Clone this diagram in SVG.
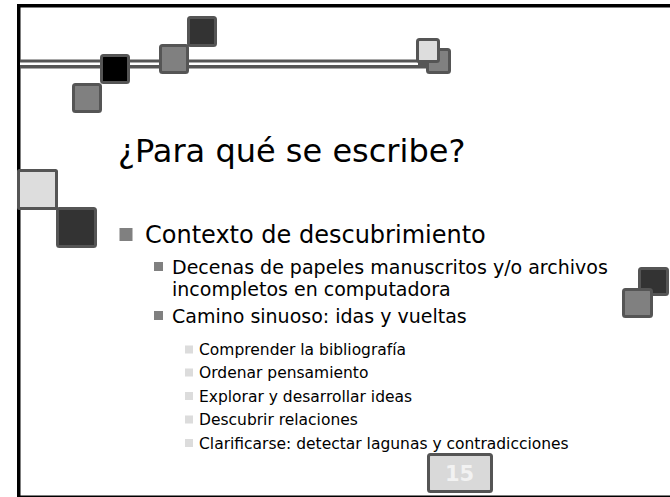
<svg xmlns="http://www.w3.org/2000/svg" width="670" height="497" viewBox="0 0 670 497">
<style>
.sq{stroke:#555;stroke-width:3}
.t{font-family:"DejaVu Sans","Liberation Sans",sans-serif;fill:#000}
.b1{fill:#808080}
.b3{fill:#dcdcdc}
</style>
<rect width="670" height="497" fill="#fff"/>
<g id="frame">
<rect x="17" y="4" width="653" height="3.5" fill="#000"/>
<rect x="17" y="4" width="3.5" height="493" fill="#000"/>
<rect x="17" y="495.5" width="653" height="1.5" fill="#000"/>
</g>
<g id="deco-line">
<rect x="20" y="59.5" width="408" height="9" fill="#555"/>
<rect x="20" y="62.5" width="398" height="2.5" fill="#fff"/>
</g>
<g id="deco-squares">
<rect class="sq" x="73.5" y="84.5" width="27" height="27" rx="2" fill="#808080"/>
<rect class="sq" x="101.5" y="55.5" width="27" height="27" rx="2" fill="#000"/>
<rect class="sq" x="188.5" y="17.5" width="27" height="28" rx="2" fill="#333"/>
<rect class="sq" x="160.5" y="45.5" width="27" height="27" rx="2" fill="#808080"/>
<rect class="sq" x="427.5" y="49.5" width="22" height="23" rx="2" fill="#808080"/>
<rect class="sq" x="417.5" y="39.5" width="21" height="22" rx="2" fill="#ddd"/>
<rect class="sq" x="18.5" y="170.5" width="38" height="38" rx="1" fill="#ddd"/>
<rect class="sq" x="57.5" y="208.5" width="38" height="38" rx="2" fill="#333"/>
<rect class="sq" x="639.5" y="268.5" width="28" height="26" rx="2" fill="#333"/>
<rect class="sq" x="623.5" y="289.5" width="28" height="27" rx="2" fill="#808080"/>
</g>
<g id="title">
<text class="t" x="118" y="162" font-size="32">¿Para qué se escribe?</text>
</g>
<g id="bullets">
<rect class="b1" x="119.5" y="228" width="13" height="13"/>
<text class="t" x="145" y="243" font-size="24">Contexto de descubrimiento</text>
<rect class="b1" x="154" y="262" width="9" height="9"/>
<text class="t" x="172" y="273.5" font-size="19">Decenas de papeles manuscritos y/o archivos</text>
<text class="t" x="172" y="295.5" font-size="19">incompletos en computadora</text>
<rect class="b1" x="154" y="311" width="9" height="9"/>
<text class="t" x="172" y="322.5" font-size="19">Camino sinuoso: idas y vueltas</text>
<rect class="b3" x="185" y="345.5" width="8" height="8"/>
<text class="t" x="199" y="355" font-size="15.5">Comprender la bibliografía</text>
<rect class="b3" x="185" y="368.5" width="8" height="8"/>
<text class="t" x="199" y="378" font-size="15.5">Ordenar pensamiento</text>
<rect class="b3" x="185" y="392" width="8" height="8"/>
<text class="t" x="199" y="401.5" font-size="15.5">Explorar y desarrollar ideas</text>
<rect class="b3" x="185" y="415.5" width="8" height="8"/>
<text class="t" x="199" y="425" font-size="15.5">Descubrir relaciones</text>
<rect class="b3" x="185" y="439" width="8" height="8"/>
<text class="t" x="199" y="448.5" font-size="15.5">Clarificarse: detectar lagunas y contradicciones</text>
</g>
<g id="page-number">
<rect class="sq" x="428.5" y="454.5" width="63" height="37" rx="2" fill="#d9d9d9"/>
<text x="459.5" y="481" font-size="21" font-weight="bold" text-anchor="middle" font-family="'DejaVu Sans','Liberation Sans',sans-serif" fill="#f2f2f2">15</text>
</g>
</svg>
